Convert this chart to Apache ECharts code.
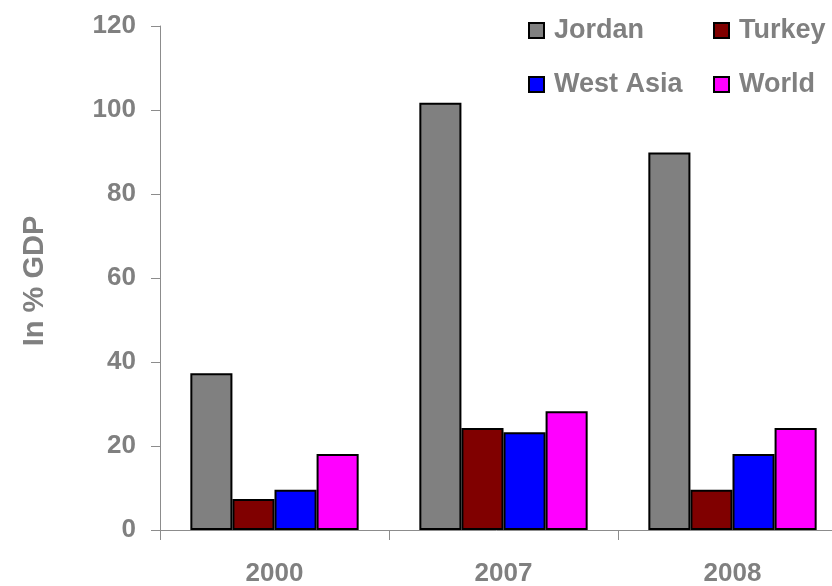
<!DOCTYPE html>
<html>
<head>
<meta charset="utf-8">
<script src="https://cdn.jsdelivr.net/npm/echarts@6/dist/echarts.min.js"></script>
<style>
  html, body { margin: 0; padding: 0; background: #fff; }
  #chart { width: 832px; height: 586px; }
</style>
</head>
<body>
<div id="chart"></div>
<script>
// Categories and series values (in % of GDP)
const years = ['2000', '2007', '2008'];
const jordan = [37.3, 101.7, 89.9];
const turkey = [7.4, 24.3, 9.6];
const westAsia = [9.6, 23.3, 18.1];
const world = [18.1, 28.3, 24.3];
const seriesNames = ['Jordan', 'Turkey', 'West Asia', 'World'];
const seriesColors = ['#808080', '#800000', '#0000ff', '#ff00ff'];
const yTicks = [0, 20, 40, 60, 80, 100, 120];

const textGray = '#808080';
const font = 'Liberation Sans, Arial, sans-serif';

const chart = echarts.init(document.getElementById('chart'), null, { renderer: 'canvas' });

const values = [jordan, turkey, westAsia, world];

// One legend block per entry so the two columns line up
function legendAt(name, left, top) {
  return {
    data: [name],
    left: left,
    top: top,
    orient: 'horizontal',
    icon: 'rect',
    itemWidth: 15,
    itemHeight: 15,
    itemGap: 0,
    selectedMode: false,
    textStyle: { color: textGray, fontFamily: font, fontWeight: 'bold', fontSize: 27, padding: [0, 0, 0, 5] }
  };
}

chart.setOption({
  animation: false,
  backgroundColor: '#ffffff',
  // The plot area runs past the right edge of the canvas
  grid: { left: 160, top: 26, height: 504, width: 687, containLabel: false, outerBoundsMode: 'none' },
  legend: [
    legendAt('Jordan', 523, 12),
    legendAt('Turkey', 708, 12),
    legendAt('West Asia', 523, 66),
    legendAt('World', 708, 66)
  ],
  xAxis: {
    type: 'category',
    data: years,
    boundaryGap: true,
    axisLine: { lineStyle: { color: '#8c8c8c', width: 1 } },
    axisTick: { show: true, length: 10, lineStyle: { color: '#8c8c8c' } },
    axisLabel: { color: textGray, fontFamily: font, fontWeight: 'bold', fontSize: 26, margin: 31 }
  },
  yAxis: {
    type: 'value',
    min: yTicks[0],
    max: yTicks[yTicks.length - 1],
    interval: 20,
    name: 'In % GDP',
    nameLocation: 'middle',
    nameRotate: 90,
    nameGap: 111,
    nameTextStyle: { color: textGray, fontFamily: font, fontWeight: 'bold', fontSize: 29, padding: [0, 6, 0, 0] },
    axisLine: { show: true, lineStyle: { color: '#8c8c8c', width: 1 } },
    axisTick: { show: true, length: 9, inside: false, lineStyle: { color: '#8c8c8c' } },
    splitLine: { show: false },
    axisLabel: { color: textGray, fontFamily: font, fontWeight: 'bold', fontSize: 26, margin: 24 }
  },
  series: seriesNames.map((name, i) => ({
    name: name,
    type: 'bar',
    data: values[i],
    barGap: '0%',
    barCategoryGap: '26.5%',
    itemStyle: { color: seriesColors[i], borderColor: '#000000', borderWidth: 2 }
  }))
});
</script>
</body>
</html>
